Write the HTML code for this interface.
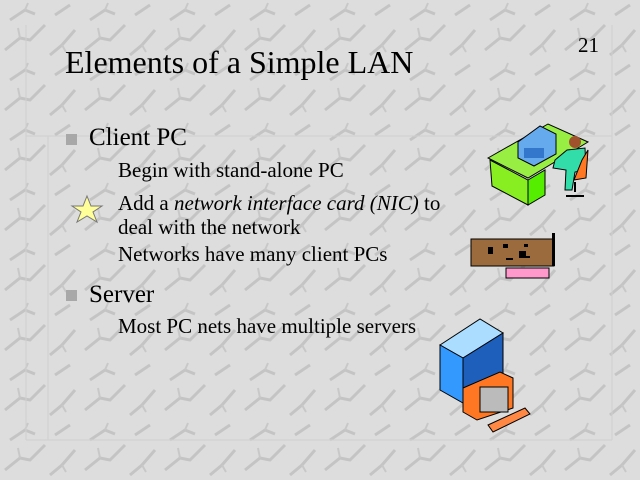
<!DOCTYPE html>
<html><head><style>
html,body{margin:0;padding:0}
body{width:640px;height:480px;position:relative;overflow:hidden;background:#dddddd;font-family:"Liberation Serif",serif;color:#000}
.t{position:absolute;white-space:nowrap}
</style></head><body>
<svg width="640" height="480" style="position:absolute;left:0;top:0">
<defs>
<pattern id="m" width="80" height="60" patternUnits="userSpaceOnUse">
<path d="M5 50 L20 38 L30 40 L45 25 M50 55 L62 45 L75 30 M10 20 L25 10 L35 14 M55 15 L70 5" stroke="#c4c4c4" stroke-width="3" fill="none"/>
<path d="M20 38 L18 28 M62 45 L66 52 M25 10 L28 3" stroke="#c8c8c8" stroke-width="2" fill="none"/>
</pattern>
</defs>
<rect width="640" height="480" fill="#dddddd"/>
<rect width="640" height="480" fill="url(#m)"/>
<line x1="26" y1="25" x2="26" y2="440" stroke="#d0d0d0"/>
<line x1="26" y1="136" x2="612" y2="136" stroke="#d0d0d0"/>
<line x1="48" y1="136" x2="48" y2="440" stroke="#d0d0d0"/>
<line x1="612" y1="25" x2="612" y2="440" stroke="#d0d0d0"/>
<line x1="26" y1="440" x2="612" y2="440" stroke="#d0d0d0"/>
<rect x="66" y="134" width="11" height="11" fill="#a8a8a8"/>
<rect x="66" y="290" width="11" height="11" fill="#a8a8a8"/>
<polygon points="87,196 91,206 102,206 93,212 97,222 87,216 77,222 81,212 72,206 83,206" fill="#ffff99" stroke="#777" stroke-width="1"/>
<!-- desk -->
<polygon points="488,158 548,124 588,142 528,178" fill="#99ee44" stroke="#000"/>
<polygon points="490,160 528,180 528,205 492,186" fill="#88ee22" stroke="#000"/>
<polygon points="528,180 545,170 545,195 528,205" fill="#55ee00" stroke="#000"/>
<polygon points="518,142 540,126 556,134 556,154 534,166 518,158" fill="#66aaee" stroke="#000"/>
<rect x="524" y="148" width="20" height="10" fill="#3377cc"/>
<circle cx="575" cy="142" r="6" fill="#a0522d"/>
<path d="M567 150 L585 148 L586 170 L575 172 L572 190 L565 190 L566 170 L553 168 L555 160 Z" fill="#33ddaa" stroke="#000"/>
<path d="M582 160 L588 150 L586 178 L574 180 Z" fill="#ff7722" stroke="#000"/>
<path d="M575 182 L575 192 M566 196 L584 196" stroke="#000" stroke-width="2"/>
<!-- NIC -->
<rect x="471" y="239" width="83" height="27" fill="#9b6b3d" stroke="#000"/>
<rect x="506" y="268" width="43" height="10" fill="#ff99cc" stroke="#000"/>
<rect x="488" y="247" width="5" height="7" fill="#000"/><rect x="503" y="244" width="5" height="4" fill="#000"/>
<rect x="519" y="251" width="7" height="7" fill="#000"/><rect x="525" y="256" width="5" height="2" fill="#000"/>
<rect x="524" y="244" width="4" height="3" fill="#000"/><rect x="506" y="258" width="7" height="2" fill="#000"/>
<rect x="552" y="233" width="3" height="33" fill="#000"/>
<!-- server -->
<polygon points="440,345 480,319 503,333 463,358" fill="#aaddff" stroke="#000"/>
<polygon points="440,345 463,358 463,403 440,390" fill="#3399ff" stroke="#000"/>
<polygon points="463,358 503,333 503,376 463,403" fill="#1e5fbb" stroke="#000"/>
<polygon points="463,388 500,372 513,378 513,408 477,420 463,412" fill="#ff7722" stroke="#000"/>
<rect x="480" y="387" width="28" height="25" fill="#bbbbbb" stroke="#000"/>
<polygon points="488,425 525,408 530,414 493,432" fill="#ff8844" stroke="#000"/>
</svg>
<div class="t" style="left:65px;top:44px;font-size:32px">Elements of a Simple LAN</div>
<div class="t" style="left:578px;top:33px;font-size:21px">21</div>
<div class="t" style="left:89px;top:124px;font-size:25px">Client PC</div>
<div class="t" style="left:118px;top:158px;font-size:21px">Begin with stand-alone PC</div>
<div class="t" style="left:118px;top:191px;font-size:21px;line-height:24px">Add a <i>network interface card (NIC)</i> to<br>deal with the network</div>
<div class="t" style="left:118px;top:242px;font-size:21px">Networks have many client PCs</div>
<div class="t" style="left:89px;top:281px;font-size:25px">Server</div>
<div class="t" style="left:118px;top:314px;font-size:21px">Most PC nets have multiple servers</div>
</body></html>
